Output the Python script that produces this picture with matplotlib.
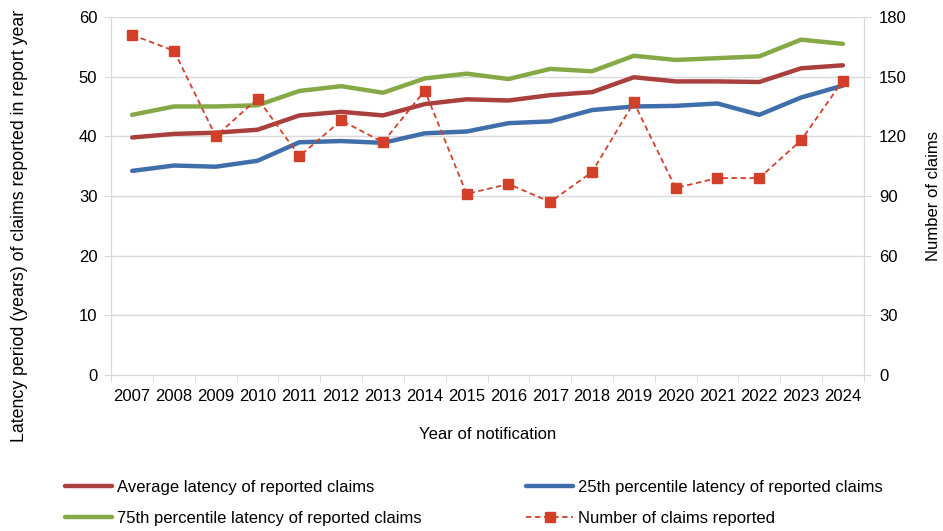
import numpy as np
import matplotlib
matplotlib.use("Agg")
import matplotlib.pyplot as plt

plt.rcParams['font.family'] = ['Liberation Sans', 'DejaVu Sans']

years = [str(y) for y in range(2007, 2025)]

# latency (years) of reported claims
avg_latency = [39.8, 40.4, 40.6, 41.1, 43.5, 44.1, 43.5, 45.4, 46.2, 46.0,
               46.9, 47.4, 49.9, 49.2, 49.2, 49.1, 51.4, 51.9]
p25_latency = [34.2, 35.1, 34.9, 35.9, 39.0, 39.2, 38.9, 40.5, 40.8, 42.2,
               42.5, 44.4, 45.0, 45.1, 45.5, 43.6, 46.5, 48.5]
p75_latency = [43.6, 45.0, 45.0, 45.2, 47.6, 48.4, 47.3, 49.7, 50.5, 49.6,
               51.3, 50.9, 53.5, 52.8, 53.1, 53.4, 56.2, 55.5]
# number of claims reported (right axis)
n_claims = [171, 163, 120, 139, 110, 128, 117, 143, 91, 96,
            87, 102, 137, 94, 99, 99, 118, 148]

red = '#A9403D'
blue = '#3F6EAB'
green = '#87A847'
orange = '#D2402A'
grid = '#D9D9D9'
fs = 12

fig = plt.figure(figsize=(9.43, 5.31), dpi=100)
ax = fig.add_axes([0.118, 0.294, 0.798, 0.674])
ax2 = ax.twinx()

x = np.arange(len(years))
l_avg, = ax.plot(x, avg_latency, color=red, lw=3.2, solid_capstyle='round',
                 label='Average latency of reported claims')
l_p25, = ax.plot(x, p25_latency, color=blue, lw=3.2, solid_capstyle='round',
                 label='25th percentile latency of reported claims')
l_p75, = ax.plot(x, p75_latency, color=green, lw=3.2, solid_capstyle='round',
                 label='75th percentile latency of reported claims')
l_n, = ax2.plot(x, n_claims, color=orange, lw=1.3, ls=(0, (3, 2)),
                marker='s', ms=7.5, label='Number of claims reported')

ax.set_xlim(-0.5, len(years) - 0.5)
ax.set_ylim(0, 60)
ax.set_yticks(np.arange(0, 61, 10))
ax2.set_ylim(0, 180)
ax2.set_yticks(np.arange(0, 181, 30))
ax.set_zorder(ax2.get_zorder() - 1)
ax2.patch.set_visible(False)
ax.grid(axis='y', color=grid, lw=1)
ax.set_axisbelow(True)

ax.set_xticks(x)
ax.set_xticklabels(years)
ax.set_xticks(np.arange(-0.5, len(years), 1), minor=True)
ax.tick_params(axis='x', which='major', length=0, labelsize=fs, pad=10)
ax.tick_params(axis='x', which='minor', length=5, color=grid)
ax.tick_params(axis='y', length=5, color=grid, labelsize=fs, pad=5)
ax2.tick_params(axis='y', length=5, color=grid, labelsize=fs, pad=6)

for a in (ax, ax2):
    a.spines['top'].set_visible(False)
    for s in ('left', 'right', 'bottom'):
        a.spines[s].set_color(grid)

ax.set_xlabel('Year of notification', fontsize=fs, labelpad=17)
ax.set_ylabel('Latency period (years) of claims reported in report year',
              fontsize=12.8)
ax.yaxis.set_label_coords(-0.11, 0.416)
ax2.set_ylabel('Number of claims', fontsize=fs, labelpad=14)

fig.legend(handles=[l_avg, l_p75, l_p25, l_n], ncol=2, frameon=False,
           loc='lower left', bbox_to_anchor=(0.053, -0.018), fontsize=fs,
           columnspacing=6.3, handlelength=2.8, handletextpad=0.3,
           labelspacing=0.95)

fig.savefig('out.png', dpi=100)
